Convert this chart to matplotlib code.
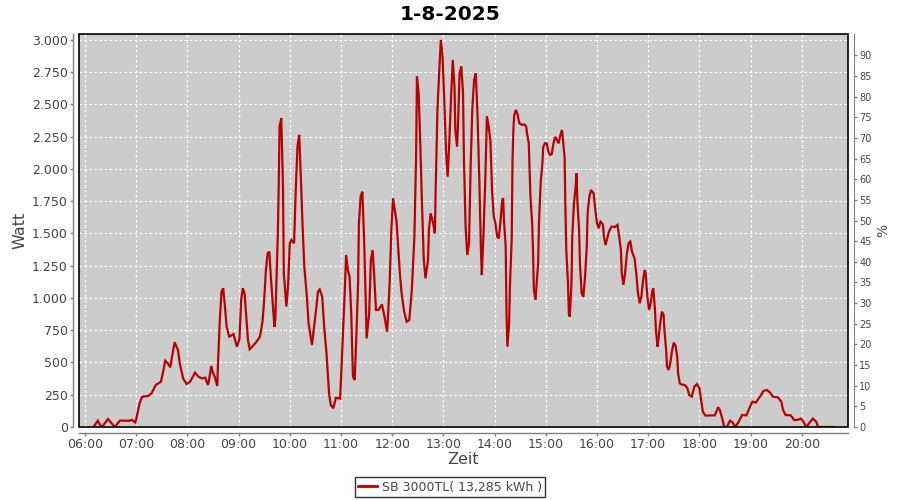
import matplotlib
matplotlib.use("Agg")
import matplotlib.pyplot as plt
from matplotlib.patches import Rectangle
from matplotlib.lines import Line2D
from matplotlib.ticker import FuncFormatter

title = "1-8-2025"
series_name = "SB 3000TL( 13,285 kWh )"
x_label = "Zeit"
y_label = "Watt"
y2_label = "%"

times = [
    "06:10", "06:15", "06:19", "06:21", "06:27", "06:31", "06:35", "06:41", "06:51", "06:55",
    "06:59", "07:00", "07:04", "07:07", "07:14", "07:18", "07:23", "07:29", "07:32", "07:34",
    "07:37", "07:40", "07:42", "07:45", "07:49", "07:51", "07:55", "07:59", "08:03", "08:09",
    "08:13", "08:17", "08:21", "08:24", "08:25", "08:28", "08:30", "08:32", "08:35", "08:36",
    "08:38", "08:40", "08:42", "08:44", "08:46", "08:49", "08:54", "08:58", "09:01", "09:03",
    "09:05", "09:07", "09:09", "09:11", "09:13", "09:17", "09:21", "09:25", "09:28", "09:30",
    "09:32", "09:34", "09:36", "09:38", "09:40", "09:42", "09:43", "09:46", "09:47", "09:48",
    "09:50", "09:52", "09:53", "09:56", "09:58", "10:00", "10:02", "10:05", "10:07", "10:09",
    "10:11", "10:13", "10:15", "10:17", "10:20", "10:22", "10:26", "10:28", "10:31", "10:33",
    "10:35", "10:38", "10:40", "10:43", "10:46", "10:48", "10:51", "10:54", "10:59", "11:01",
    "11:04", "11:06", "11:08", "11:10", "11:12", "11:14", "11:16", "11:18", "11:20", "11:21",
    "11:23", "11:25", "11:27", "11:29", "11:30", "11:33", "11:35", "11:37", "11:39", "11:41",
    "11:44", "11:48", "11:51", "11:54", "11:55", "11:57", "11:59", "12:01", "12:03", "12:05",
    "12:07", "12:09", "12:11", "12:14", "12:17", "12:20", "12:23", "12:26", "12:28", "12:29",
    "12:31", "12:33", "12:35", "12:37", "12:39", "12:42", "12:43", "12:45", "12:48", "12:50",
    "12:51", "12:53", "12:55", "12:57", "12:59", "13:01", "13:03", "13:05", "13:07", "13:09",
    "13:11", "13:13", "13:14", "13:16", "13:17", "13:19", "13:21", "13:23", "13:24", "13:26",
    "13:28", "13:30", "13:32", "13:34", "13:36", "13:38", "13:40", "13:42", "13:44", "13:45",
    "13:47", "13:49", "13:50", "13:51", "13:53", "13:55", "13:57", "13:59", "14:01", "14:03",
    "14:05", "14:07", "14:09", "14:10", "14:11", "14:13", "14:14", "14:15", "14:17", "14:18",
    "14:20", "14:21", "14:22", "14:23", "14:25", "14:27", "14:29", "14:32", "14:35", "14:37",
    "14:38", "14:40", "14:41", "14:42", "14:44", "14:45", "14:46", "14:48", "14:49", "14:51",
    "14:52", "14:54", "14:56", "14:57", "14:59", "15:01", "15:03", "15:05", "15:07", "15:09",
    "15:11", "15:13", "15:15", "15:17", "15:19", "15:20", "15:22", "15:23", "15:24", "15:26",
    "15:27", "15:28", "15:30", "15:31", "15:33", "15:35", "15:36", "15:37", "15:39", "15:40",
    "15:42", "15:44", "15:46", "15:48", "15:49", "15:51", "15:53", "15:56", "15:58", "16:00",
    "16:02", "16:04", "16:07", "16:08", "16:10", "16:12", "16:14", "16:17", "16:21", "16:24",
    "16:26", "16:28", "16:29", "16:31", "16:33", "16:35", "16:37", "16:39", "16:41", "16:44",
    "16:46", "16:48", "16:50", "16:52", "16:54", "16:56", "16:57", "16:59", "17:01", "17:03",
    "17:05", "17:06", "17:08", "17:09", "17:11", "17:12", "17:14", "17:16", "17:18", "17:19",
    "17:21", "17:22", "17:24", "17:26", "17:28", "17:30", "17:32", "17:34", "17:35", "17:37",
    "17:39", "17:43", "17:46", "17:48", "17:51", "17:54", "17:57", "18:00", "18:02", "18:04",
    "18:07", "18:13", "18:18", "18:22", "18:24", "18:27", "18:29", "18:32", "18:36", "18:39",
    "18:42", "18:46", "18:50", "18:55", "18:59", "19:02", "19:06", "19:11", "19:15", "19:19",
    "19:23", "19:26", "19:32", "19:36", "19:38", "19:41", "19:47", "19:51", "19:55", "19:59",
    "20:02", "20:05", "20:10", "20:13", "20:17", "20:19", "20:37",
]

watts = [
    0, 49, 0, 10, 62, 30, 0, 50, 48, 55,
    35, 60, 184, 235, 240, 261, 326, 351, 442, 514,
    494, 463, 545, 656, 598, 494, 377, 333, 350, 421,
    390, 377, 382, 326, 350, 473, 420, 390, 318, 519,
    829, 1049, 1075, 933, 777, 700, 720, 623, 680, 985,
    1075, 1036, 855, 674, 602, 630, 661, 700, 816, 985,
    1217, 1346, 1359, 1140, 959, 777, 830, 1501, 1863, 2328,
    2393, 1863, 1191, 933, 1100, 1424, 1450, 1424, 1837, 2173,
    2264, 1928, 1553, 1243, 1010, 803, 636, 750, 920, 1049,
    1066, 1010, 803, 571, 261, 171, 145, 227, 220, 519,
    985, 1333, 1217, 1165, 881, 390, 364, 700, 1114, 1579,
    1786, 1824, 1475, 972, 687, 881, 1294, 1372, 1165, 907,
    907, 950, 855, 739, 850, 1114, 1527, 1773, 1682, 1600,
    1398, 1191, 1036, 894, 816, 829, 1062, 1475, 2096, 2716,
    2587, 2173, 1708, 1294, 1152, 1294, 1527, 1656, 1579, 1501,
    1863, 2458, 2742, 3000, 2871, 2535, 2147, 1940, 2225, 2561,
    2845, 2638, 2302, 2173, 2328, 2742, 2794, 2587, 2096, 1553,
    1333, 1424, 2044, 2484, 2690, 2742, 2406, 1940, 1372, 1178,
    1500, 1899, 2170, 2406, 2329, 2225, 1837, 1630, 1579, 1475,
    1463, 1605, 1760, 1773, 1600, 1398, 855, 623, 800, 1100,
    1450, 2070, 2302, 2418, 2458, 2420, 2354, 2342, 2345, 2329,
    2274, 2200, 1992, 1786, 1579, 1372, 1062, 985, 1088, 1269,
    1579, 1899, 2044, 2173, 2199, 2199, 2135, 2109, 2115, 2199,
    2248, 2225, 2199, 2261, 2302, 2230, 2096, 1682, 1372, 1114,
    881, 855, 1100, 1475, 1734, 1863, 1966, 1750, 1527, 1269,
    1036, 1010, 1165, 1398, 1656, 1786, 1837, 1811, 1682, 1579,
    1540, 1592, 1570, 1480, 1411, 1463, 1515, 1553, 1550, 1566,
    1475, 1372, 1191, 1101, 1200, 1346, 1424, 1437, 1359, 1307,
    1191, 1036, 959, 1010, 1140, 1217, 1190, 1010, 907, 959,
    1062, 1075, 900, 752, 623, 680, 803, 894, 870, 752,
    597, 467, 442, 500, 597, 654, 630, 545, 416, 338,
    330, 325, 300, 248, 235, 312, 333, 300, 209, 119,
    88, 90, 90, 153, 130, 60, 0, 0, 49, 35,
    0, 40, 93, 90, 153, 196, 189, 235, 279, 287,
    266, 235, 230, 196, 132, 93, 90, 54, 55, 65,
    40, 0, 40, 65, 40, 0, 0,
]

y_ticks = [0, 250, 500, 750, 1000, 1250, 1500, 1750, 2000, 2250, 2500, 2750, 3000]
y2_ticks = [0, 5, 10, 15, 20, 25, 30, 35, 40, 45, 50, 55, 60, 65, 70, 75, 80, 85, 90]
x_tick_labels = ["06:00", "07:00", "08:00", "09:00", "10:00", "11:00", "12:00",
                 "13:00", "14:00", "15:00", "16:00", "17:00", "18:00", "19:00", "20:00"]


def to_hours(s):
    h, m = s.split(":")
    return int(h) + int(m) / 60.0


hours = [to_hours(t) for t in times]
x_ticks = [to_hours(t) for t in x_tick_labels]

plt.rcParams["font.family"] = ["DejaVu Sans"]
fig = plt.figure(figsize=(9, 5), dpi=100)
fig.patch.set_facecolor("white")
ax = fig.add_axes([79 / 900, 1 - 427 / 500, 769 / 900, 393 / 500])
ax.set_facecolor("#cccccc")

line_color = "#bb0000"
ax.plot(hours, watts, color=line_color, lw=1.6, solid_joinstyle="miter", zorder=3)

y_max = 3046
ax.set_ylim(0, y_max)
ax.set_xlim(5.883, 20.902)

ax.set_yticks(y_ticks)
ax.yaxis.set_major_formatter(FuncFormatter(lambda v, p: f"{int(v):,}".replace(",", ".")))
ax.set_xticks(x_ticks)
ax.set_xticklabels(x_tick_labels)

ax.grid(True, color="white", linestyle=(0, (2, 2)), lw=0.9)
ax.set_axisbelow(True)

for side in ["top", "right"]:
    ax.spines[side].set_visible(False)
for side in ["left", "bottom"]:
    ax.spines[side].set_position(("outward", 4))
    ax.spines[side].set_color("#808080")
    ax.spines[side].set_linewidth(1.0)

ax.add_patch(Rectangle((0, 0), 1, 1, transform=ax.transAxes, fill=False,
                       edgecolor="black", lw=1.2, zorder=5, clip_on=False))

ax.tick_params(axis="both", colors="#808080", labelcolor="#444444", labelsize=9,
               length=2, width=1, direction="out", pad=2)

ax.set_xlabel(x_label, fontsize=11.5, color="#444444", labelpad=1)
ax.set_ylabel(y_label, fontsize=11.5, color="#444444", labelpad=3)

ax2 = ax.twinx()
ax2.set_ylim(0, y_max / 32.0)
ax2.set_yticks(y2_ticks)
for side in ["top", "left", "bottom"]:
    ax2.spines[side].set_visible(False)
ax2.spines["right"].set_position(("outward", 4))
ax2.spines["right"].set_color("#808080")
ax2.tick_params(axis="y", colors="#808080", labelcolor="#444444", labelsize=7,
                length=2, width=1, direction="out", pad=2)
ax2.set_ylabel(y2_label, fontsize=10, color="#444444", labelpad=3)

fig.text(0.5, 1 - 14 / 500, title, ha="center", va="center",
         fontsize=14.5, fontweight="bold", color="black")

handle = Line2D([], [], color=line_color, lw=2, marker="_", markersize=6)
leg = fig.legend([handle], [series_name], loc="center", bbox_to_anchor=(450 / 900, 1 - 487 / 500),
                 frameon=True, fancybox=False, fontsize=9, handlelength=1.5,
                 handletextpad=0.4, borderpad=0.25, borderaxespad=0)
leg.get_frame().set_edgecolor("black")
leg.get_frame().set_linewidth(1.0)
for t in leg.get_texts():
    t.set_color("#444444")

fig.savefig("out.png", dpi=100)
